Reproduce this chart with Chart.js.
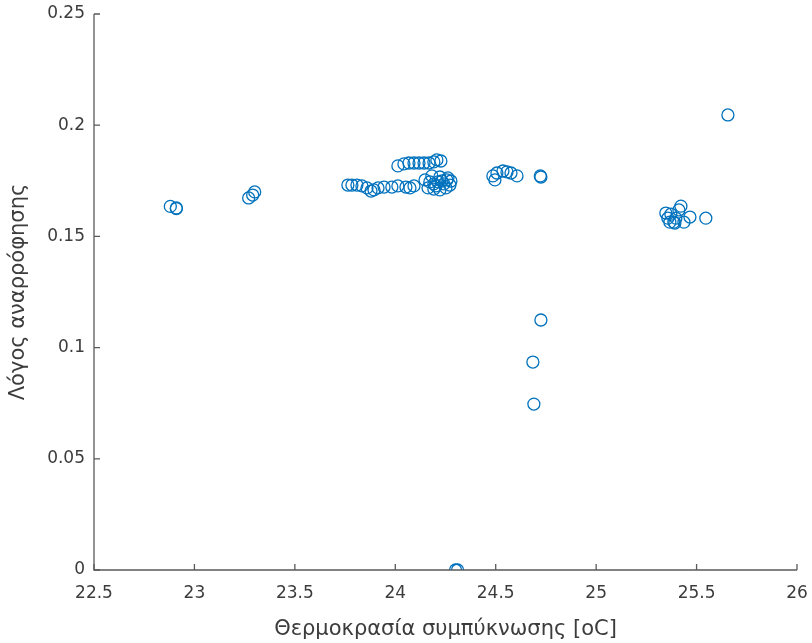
<!DOCTYPE html>
<html>
<head>
<meta charset="utf-8">
<script src="https://cdn.jsdelivr.net/npm/chart.js@4/dist/chart.umd.min.js"></script>
<style>
  html, body { margin: 0; padding: 0; background: #ffffff; }
  #wrap { width: 812px; height: 643px; }
</style>
</head>
<body>
<div id="wrap"><canvas id="c" width="812" height="643"></canvas></div>
<script>
// Condensing temperature [oC]
const tempC = [
  22.88, 22.91, 22.91,
  23.27, 23.29, 23.30,
  23.764, 23.784, 23.809, 23.834, 23.859, 23.879, 23.894, 23.914, 23.944, 23.983, 24.013, 24.053, 24.073, 24.093,
  24.013, 24.043, 24.068, 24.093, 24.118, 24.143, 24.168, 24.192, 24.207, 24.227,
  24.148, 24.172, 24.192, 24.212, 24.232, 24.257, 24.277, 24.163, 24.192, 24.222, 24.252, 24.272, 24.182, 24.222, 24.262, 24.202, 24.242,
  24.300, 24.310,
  24.486, 24.496, 24.506, 24.536, 24.556, 24.576, 24.606, 24.725, 24.722,
  24.725, 24.685, 24.690,
  25.656,
  25.347, 25.357, 25.367, 25.387, 25.397, 25.412, 25.422, 25.437, 25.467, 25.546, 25.372, 25.392
];

// Suction ratio
const ratio = [
  0.1635, 0.1628, 0.1625,
  0.1673, 0.1686, 0.1700,
  0.1731, 0.1731, 0.1731, 0.1727, 0.1718, 0.1704, 0.1709, 0.1718, 0.1722, 0.1722, 0.1727, 0.1722, 0.1718, 0.1727,
  0.1817, 0.1826, 0.1830, 0.1830, 0.1830, 0.1830, 0.1830, 0.1835, 0.1844, 0.1839,
  0.1754, 0.1745, 0.1736, 0.1745, 0.1749, 0.1754, 0.1749, 0.1718, 0.1713, 0.1709, 0.1718, 0.1731, 0.1772, 0.1767, 0.1763, 0.1727, 0.1736,
  0.0, 0.0,
  0.1772, 0.1754, 0.1785, 0.1794, 0.1790, 0.1785, 0.1772, 0.1767, 0.1772,
  0.1124, 0.0935, 0.0746,
  0.2046,
  0.1605, 0.1582, 0.1564, 0.1564, 0.1582, 0.1619, 0.1636, 0.1564, 0.1587, 0.1582, 0.1600, 0.1560
];

const xTickValues = [22.5, 23, 23.5, 24, 24.5, 25, 25.5, 26];
const xTickLabels = ['22.5', '23', '23.5', '24', '24.5', '25', '25.5', '26'];
const yTickValues = [0, 0.05, 0.1, 0.15, 0.2, 0.25];
const yTickLabels = ['0', '0.05', '0.1', '0.15', '0.2', '0.25'];

const xTitle = 'Θερμοκρασία συμπύκνωσης [oC]';
const yTitle = 'Λόγος αναρρόφησης';

const points = tempC.map((t, i) => ({ x: t, y: ratio[i] }));

const AXIS_COLOR = '#5a5a5a';
const TEXT_COLOR = '#3c3c3c';
const FONT = 'DejaVu Sans, Verdana, sans-serif';

// Keep tick-label overhang from shrinking the plot area
function noOverhang(scale) {
  scale.paddingLeft = 0;
  scale.paddingRight = 0;
  scale.paddingTop = 0;
  scale.paddingBottom = 0;
}

// Left and bottom axis lines with inward tick marks
const boxAxes = {
  id: 'boxAxes',
  afterDatasetsDraw(chart) {
    const { ctx, chartArea: a, scales } = chart;
    ctx.save();
    ctx.strokeStyle = AXIS_COLOR;
    ctx.lineWidth = 1.3;
    ctx.beginPath();
    ctx.moveTo(a.left, a.top);
    ctx.lineTo(a.left, a.bottom);
    ctx.lineTo(a.right, a.bottom);
    ctx.stroke();
    ctx.beginPath();
    xTickValues.forEach(v => {
      const px = scales.x.getPixelForValue(v);
      ctx.moveTo(px, a.bottom);
      ctx.lineTo(px, a.bottom - 6);
    });
    yTickValues.forEach(v => {
      const py = scales.y.getPixelForValue(v);
      ctx.moveTo(a.left, py);
      ctx.lineTo(a.left + 6, py);
    });
    ctx.stroke();
    ctx.restore();
  }
};

new Chart(document.getElementById('c'), {
  type: 'scatter',
  data: {
    datasets: [{
      data: points,
      pointStyle: 'circle',
      pointRadius: 6,
      pointHoverRadius: 6,
      borderColor: '#0072BD',
      backgroundColor: 'rgba(0,0,0,0)',
      pointBorderWidth: 1.3
    }]
  },
  options: {
    responsive: false,
    animation: false,
    devicePixelRatio: 1,
    layout: { padding: { left: 0, right: 15, top: 14, bottom: 0 } },
    plugins: { legend: { display: false }, tooltip: { enabled: false } },
    scales: {
      x: {
        type: 'linear',
        min: 22.5,
        max: 26,
        afterBuildTicks(scale) { scale.ticks = xTickValues.map(v => ({ value: v })); },
        afterFit(scale) { scale.height = 73; noOverhang(scale); },
        grid: { display: false, drawTicks: false },
        border: { display: false },
        ticks: {
          padding: 13,
          color: TEXT_COLOR,
          font: { family: FONT, size: 17 },
          maxRotation: 0,
          callback(v) { const i = xTickValues.indexOf(v); return i >= 0 ? xTickLabels[i] : ''; }
        },
        title: {
          display: true,
          text: xTitle,
          color: TEXT_COLOR,
          font: { family: FONT, size: 21 },
          padding: { top: 0, bottom: 1 }
        }
      },
      y: {
        type: 'linear',
        min: 0,
        max: 0.25,
        afterBuildTicks(scale) { scale.ticks = yTickValues.map(v => ({ value: v })); },
        afterFit(scale) { scale.width = 94; noOverhang(scale); },
        grid: { display: false, drawTicks: false },
        border: { display: false },
        ticks: {
          padding: 9,
          color: TEXT_COLOR,
          font: { family: FONT, size: 17 },
          callback(v) { const i = yTickValues.indexOf(v); return i >= 0 ? yTickLabels[i] : ''; }
        },
        title: {
          display: true,
          text: yTitle,
          color: TEXT_COLOR,
          font: { family: FONT, size: 21 },
          padding: { top: 6, bottom: 0 }
        }
      }
    }
  },
  plugins: [boxAxes]
});
</script>
</body>
</html>
